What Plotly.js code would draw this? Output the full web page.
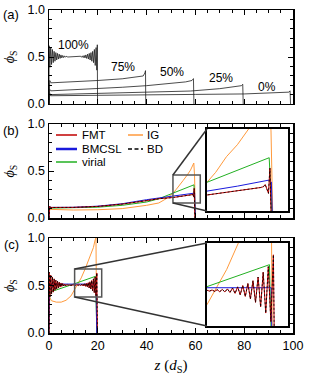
<!DOCTYPE html>
<html><head><meta charset="utf-8">
<script src="https://cdn.plot.ly/plotly-3.0.1.min.js"></script>
<style>html,body{margin:0;padding:0;background:#fff;}#chart{width:309px;height:375px;}</style>
</head><body><div id="chart"></div>
<script>
// ---------- Panel (a): profiles for different compression states ----------
const zA100 = [0,0.05,0.35,0.7,1.05,1.4,1.75,2.1,2.45,2.8,3.15,3.5,3.85,4.2,4.55,4.9,5.25,5.6,5.95,6.3,6.65,7.0,7.7,10,12.3,13,13.35,13.7,14.05,14.4,14.75,15.1,15.45,15.8,16.15,16.5,16.85,17.2,17.55,17.9,18.25,18.6,18.95,19.3,19.6,19.8,19.9];
const phiA100 = [0,0.62,0.39,0.6,0.42,0.58,0.44,0.56,0.455,0.547,0.468,0.538,0.478,0.53,0.485,0.522,0.49,0.516,0.494,0.512,0.497,0.508,0.5,0.503,0.5,0.508,0.497,0.512,0.494,0.516,0.49,0.522,0.485,0.53,0.478,0.538,0.468,0.547,0.455,0.56,0.44,0.58,0.41,0.6,0.36,0.63,0];
const zA75 = [0,0.3,0.8,10,20,30,36,38.6,39.3,39.55,39.65];
const phiA75 = [0,0.25,0.225,0.235,0.25,0.268,0.285,0.298,0.33,0.355,0];
const zA50 = [0,0.3,0.8,10,20,30,40,50,56,58.6,59.2,59.4];
const phiA50 = [0,0.155,0.14,0.15,0.163,0.178,0.195,0.218,0.235,0.25,0.27,0];
const zA25 = [0,0.3,0.8,20,40,58,70,76,78.9,79.4,79.6];
const phiA25 = [0,0.11,0.1,0.112,0.125,0.138,0.163,0.18,0.195,0.21,0];
const zA0 = [0,0.3,0.8,20,40,60,80,90,96,98.3,98.8,99];
const phiA0 = [0,0.1,0.088,0.095,0.098,0.102,0.107,0.113,0.12,0.126,0.14,0];
const labelsA = ['100%','75%','50%','25%','0%'];
const labelZ = [10.2,30.3,50.4,70.5,89.3];
const labelPhi = [0.63,0.394,0.34,0.277,0.18];

// ---------- Panel (b) ----------
const zB_fmt = [0,0.3,0.7,10,20,30,40,45,50.8,55,57.5,58.2,58.6,58.85,59.3,59.5,59.8];
const phiB_fmt = [0,0.125,0.112,0.113,0.123,0.148,0.185,0.205,0.218,0.232,0.24,0.245,0.248,0.256,0.224,0.315,0];
const zB_bd = [0,0.3,0.7,10,20,30,40,45,50.8,55,57.5,58.2,58.6,58.85,59.3,59.5,59.8];
const phiB_bd = [0,0.125,0.112,0.113,0.123,0.148,0.185,0.205,0.218,0.232,0.24,0.245,0.248,0.256,0.224,0.315,0];
const zB_bmc = [0,0.3,0.7,10,20,30,40,45,50.8,55,59.4,59.7,60.0];
const phiB_bmc = [0,0.12,0.113,0.114,0.126,0.152,0.195,0.214,0.232,0.25,0.272,0.265,0];
const zB_vir = [0,0.3,0.7,10,20,30,40,45,50.8,55,59.4,60.05];
const phiB_vir = [0,0.11,0.105,0.107,0.115,0.135,0.17,0.205,0.264,0.307,0.353,0];
const zB_ig = [0,0.3,0.7,10,20,30,40,45,48,50.8,52,53.5,55,56.65,58,59.35,59.65,60.0];
const phiB_ig = [0,0.1,0.092,0.085,0.088,0.1,0.135,0.16,0.205,0.264,0.3,0.357,0.4,0.457,0.51,0.585,0.45,0];

// ---------- Panel (c) ----------
const zC_fmt = [0,0.05,0.35,0.7,1.05,1.4,1.75,2.1,2.45,2.8,3.15,3.5,3.85,4.2,4.55,4.9,5.25,5.6,5.95,6.3,6.65,7.0,7.35,7.7,8.05,8.4,8.75,9.1,9.45,9.8,10.15,10.5,10.85,11.2,11.55,11.9,12.25,12.6,12.95,13.3,13.65,14.0,14.35,14.7,15.05,15.4,15.75,16.1,16.45,16.8,17.15,17.5,17.85,18.2,18.55,18.9,19.25,19.6,19.75,19.85];
const phiC_fmt = [0,0.64,0.38,0.61,0.41,0.59,0.43,0.57,0.45,0.555,0.465,0.545,0.475,0.535,0.483,0.527,0.49,0.521,0.495,0.516,0.498,0.512,0.5,0.51,0.502,0.508,0.503,0.507,0.503,0.506,0.504,0.506,0.503,0.507,0.502,0.508,0.501,0.509,0.5,0.511,0.498,0.514,0.495,0.518,0.49,0.523,0.484,0.53,0.475,0.54,0.463,0.553,0.447,0.57,0.425,0.59,0.395,0.632,0.2,0];
const zC_bd = zC_fmt;
const phiC_bd = phiC_fmt;
const zC_bmc = [0,0.3,19.3,19.55];
const phiC_bmc = [0,0.515,0.515,0];
const zC_vir = [0,0.3,10.5,19.06,19.6];
const phiC_vir = [0,0.43,0.519,0.597,0];
const zC_ig = [0,0.2,1,3,5,7,9,10.5,11.8,13.2,14.8,16.5,18.2,18.9,19.25,19.55];
const phiC_ig = [0,0.38,0.34,0.325,0.325,0.345,0.39,0.455,0.515,0.58,0.674,0.78,0.9,0.98,1.0,0];

// ---------- Inset windows ----------
const insetB_z = [50.8, 62];
const insetB_phi = [0.16, 0.457];
const insetC_z = [10.5, 21.6];
const insetC_phi = [0.379, 0.674];

// ---------- Legend entries ----------
const legNames = ['FMT','BMCSL','virial','IG','BD'];
const legKeys = ['fmt','bmc','vir','ig','bd'];

// ---------- styles ----------
const C = {fmt:'#c00000', bd:'#000000', bmc:'#1a1adc', vir:'#22b022', ig:'#ff9a3c', a:'#1e1e1e'};
const W = 1;
const BD_DASH = '2px,2px';

const traces = [];
function addSet(sfx, data) {
  const [xa, ya] = sfx;
  traces.push({x:data.ig[0], y:data.ig[1], xaxis:xa, yaxis:ya, mode:'lines', name:'IG', line:{color:C.ig, width:W}, showlegend:false});
  traces.push({x:data.vir[0], y:data.vir[1], xaxis:xa, yaxis:ya, mode:'lines', name:'virial', line:{color:C.vir, width:W}, showlegend:false});
  traces.push({x:data.bmc[0], y:data.bmc[1], xaxis:xa, yaxis:ya, mode:'lines', name:'BMCSL', line:{color:C.bmc, width:W}, showlegend:false});
  traces.push({x:data.fmt[0], y:data.fmt[1], xaxis:xa, yaxis:ya, mode:'lines', name:'FMT', line:{color:C.fmt, width:W}, showlegend:false});
  traces.push({x:data.bd[0], y:data.bd[1], xaxis:xa, yaxis:ya, mode:'lines', name:'BD', line:{color:C.bd, width:0.8, dash:BD_DASH}, showlegend:false});
}
// panel a
[[zA100,phiA100],[zA75,phiA75],[zA50,phiA50],[zA25,phiA25],[zA0,phiA0]].forEach((d,i)=>{
  traces.push({x:d[0], y:d[1], xaxis:'x', yaxis:'y', mode:'lines', name:labelsA[i], line:{color:C.a, width:0.8}, showlegend:false});
});
const dataB = {fmt:[zB_fmt,phiB_fmt], bd:[zB_bd,phiB_bd], bmc:[zB_bmc,phiB_bmc], vir:[zB_vir,phiB_vir], ig:[zB_ig,phiB_ig]};
const dataC = {fmt:[zC_fmt,phiC_fmt], bd:[zC_bd,phiC_bd], bmc:[zC_bmc,phiC_bmc], vir:[zC_vir,phiC_vir], ig:[zC_ig,phiC_ig]};
addSet(['x2','y2'], dataB);
addSet(['x3','y3'], dataC);
addSet(['x4','y4'], dataB);
addSet(['x5','y5'], dataC);

// domains (figure: plot area 49..293 px horizontally, 10..333 px vertically)
const dA = [0.709, 1.0], dB = [0.356, 0.647], dC = [0.0, 0.294];
const dInsX = [0.6475, 0.9795];
const dInsB = [0.3777, 0.6316], dInsC = [0.0217, 0.2786];

const SANS = 'Liberation Sans, Arial, sans-serif';
const SERIF = 'Liberation Serif, Times New Roman, serif';
const tickFont = {family:SANS, size:12.5, color:'#000'};
function mainX(anchor, labels) {
  const ax = {domain:[0,1], range:[0,100], anchor:anchor, showline:true, linewidth:1.5, linecolor:'#000', mirror:'ticks',
    ticks:'inside', ticklen:5, tickwidth:1, tickcolor:'#000', tick0:0, dtick:20, showgrid:false, zeroline:false,
    minor:{dtick:5, ticklen:3, ticks:'inside', tickcolor:'#000', tickwidth:1, showgrid:false},
    showticklabels:labels, tickfont:tickFont};
  if (labels) ax.title = {text:'<i>z</i> (<i>d</i><sub>S</sub>)', font:{family:SERIF, size:15, color:'#000'}, standoff:12};
  return ax;
}
function mainY(domain, anchor) {
  return {domain:domain, range:[0,1], anchor:anchor, showline:true, linewidth:1.5, linecolor:'#000', mirror:'ticks',
    ticks:'inside', ticklen:5, tickwidth:1, tickcolor:'#000', tick0:0, dtick:0.5, tickformat:'.1f', showgrid:false, zeroline:false,
    minor:{dtick:0.1, ticklen:3, ticks:'inside', tickcolor:'#000', tickwidth:1, showgrid:false},
    tickfont:tickFont,
    title:{text:'<i>ϕ</i><sub>S</sub>', font:{family:SERIF, size:14, color:'#000'}, standoff:9}};
}
function insetAx(domain, range, anchor) {
  return {domain:domain, range:range, anchor:anchor, showline:true, linewidth:2, linecolor:'#000', mirror:true,
    ticks:'', showticklabels:false, showgrid:false, zeroline:false};
}

function lin(d, r, v) { return d[0] + (v - r[0]) / (r[1] - r[0]) * (d[1] - d[0]); }
function pxX(p) { return (p - 49) / 244; }
function pxY(p) { return (333 - p) / 323; }
const shapes = [];
function zoomShapes(xref, yref, zr, pr, dMainY, dInsY) {
  shapes.push({type:'rect', xref:xref, yref:yref, x0:zr[0], x1:zr[1], y0:pr[0], y1:pr[1], line:{color:'#555', width:1.5}});
  const rx = lin([0,1],[0,100],zr[0]);
  shapes.push({type:'line', xref:'paper', yref:'paper', x0:rx, y0:lin(dMainY,[0,1],pr[1]), x1:dInsX[0], y1:dInsY[1], line:{color:'#333', width:1.5}});
  shapes.push({type:'line', xref:'paper', yref:'paper', x0:rx, y0:lin(dMainY,[0,1],pr[0]), x1:dInsX[0], y1:dInsY[0], line:{color:'#333', width:1.5}});
}
zoomShapes('x2','y2', insetB_z, insetB_phi, dB, dInsB);
zoomShapes('x3','y3', insetC_z, insetC_phi, dC, dInsC);

const annotations = [];
labelsA.forEach((t,i)=>annotations.push({xref:'x', yref:'y', x:labelZ[i], y:labelPhi[i], text:t, showarrow:false, font:{family:SANS, size:12, color:'#000'}}));
[['(a)',0.985],['(b)',0.628],['(c)',0.2755]].forEach(p=>annotations.push({xref:'paper', yref:'paper', x:-0.154, y:p[1], text:p[0], showarrow:false, xanchor:'center', yanchor:'middle', font:{family:SANS, size:13, color:'#000'}}));

// legend for panel (b): two columns
const legCol = [[56,77,80],[56,77,80],[56,77,80],[128,143,145],[128,143,145]];
const legRow = [135,149,162,135,149];
legNames.forEach((n,i)=>{
  const k = legKeys[i];
  const ln = {color:C[k], width:(k==='bmc')?2.5:1.5};
  if (k==='bd') { ln.dash = '4px,2.5px'; ln.width = 1.3; }
  shapes.push({type:'line', xref:'paper', yref:'paper', x0:pxX(legCol[i][0]), x1:pxX(legCol[i][1]), y0:pxY(legRow[i]), y1:pxY(legRow[i]), line:ln});
  annotations.push({xref:'paper', yref:'paper', x:pxX(legCol[i][2]), y:pxY(legRow[i]), text:n, showarrow:false, xanchor:'left', yanchor:'middle', font:{family:SANS, size:11.5, color:'#000'}});
});

const layout = {
  width:309, height:375, margin:{l:49, r:16, t:10, b:42},
  paper_bgcolor:'#fff', plot_bgcolor:'#fff', showlegend:false,
  font:{family:SANS, size:13, color:'#000'},
  xaxis: mainX('y', false), yaxis: mainY(dA, 'x'),
  xaxis2: mainX('y2', false), yaxis2: mainY(dB, 'x2'),
  xaxis3: mainX('y3', true), yaxis3: mainY(dC, 'x3'),
  xaxis4: insetAx(dInsX, insetB_z, 'y4'), yaxis4: insetAx(dInsB, insetB_phi, 'x4'),
  xaxis5: insetAx(dInsX, insetC_z, 'y5'), yaxis5: insetAx(dInsC, insetC_phi, 'x5'),
  shapes: shapes, annotations: annotations
};
Plotly.newPlot('chart', traces, layout, {staticPlot:true, displayModeBar:false});
</script>
</body></html>
